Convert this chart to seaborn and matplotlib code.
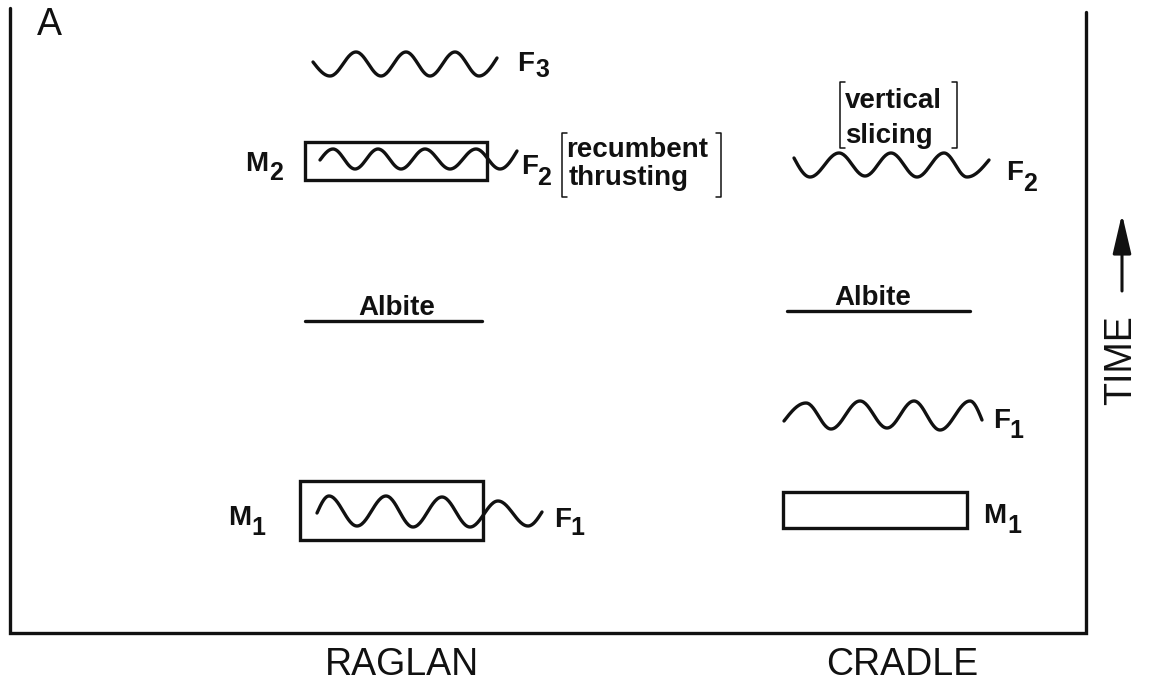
# import libraries
import numpy
import pandas
import seaborn
import matplotlib.pyplot as plt
from matplotlib.patches import Rectangle

# column names under the frame
columns = ['RAGLAN', 'CRADLE']
column_x = [402, 902]

# fold symbols: start point, crests / troughs, end point (pixels, y down)
fold_names = ['F3 raglan', 'F2 raglan', 'F1 raglan', 'F2 cradle', 'F1 cradle']
fold_x = [
    [313, 330, 356, 381, 406, 430, 455, 479, 497],
    [320, 333, 355, 378, 401, 425, 450, 476, 500, 517],
    [317, 329, 357, 386, 413, 442, 470, 498, 528, 542],
    [794, 810, 839, 865, 891, 917, 944, 967, 989],
    [784, 806, 831, 860, 887, 914, 940, 970, 982],
]
fold_y = [
    [62, 76, 52, 76, 52, 76, 52, 76, 58],
    [160, 149, 169, 149, 169, 149, 169, 149, 169, 151],
    [513, 496, 526, 496, 527, 497, 527, 501, 526, 512],
    [158, 177, 153, 176, 153, 177, 153, 177, 160],
    [421, 403, 429, 401, 428, 401, 430, 401, 420],
]

# metamorphic boxes: left, top, right, bottom
meta_names = ['M2 raglan', 'M1 raglan', 'M1 cradle']
meta_boxes = [
    [305, 142, 487, 180],
    [300, 481, 483, 540],
    [783, 492, 967, 528],
]

# labels with subscripts: letter, number, letter x, letter baseline, number x, number baseline
event_letters = ['F', 'M', 'F', 'M', 'F', 'F', 'F', 'M']
event_numbers = ['3', '2', '2', '1', '1', '2', '1', '1']
event_pos = [
    (517, 71, 535, 77),
    (245, 171, 269, 180),
    (521, 174, 537, 185),
    (228, 525, 251, 535),
    (554, 527, 570, 535),
    (1006, 180, 1023, 191),
    (993, 428, 1009, 438),
    (983, 523, 1007, 533),
]

# albite growth: text centre, text baseline, line start, line end, line y
albite = [
    (397, 315, 305, 482, 321),
    (873, 305, 787, 970, 311),
]

# bracketed notes: lines of text, text x, baselines, bracket left / right x, bracket top / bottom
notes = [
    (['recumbent', 'thrusting'], [566, 569], [157, 185], 562, 721, 133, 197),
    (['vertical', 'slicing'], [845, 845], [108, 143], 840, 957, 82, 148),
]


def wave_points(xs, ys, n=30):
    # half cosine between crest and trough, quarter cosine at the loose ends
    px, py = [], []
    last = len(xs) - 2
    for i in range(len(xs) - 1):
        t = numpy.linspace(0, 1, n)
        x = xs[i] + (xs[i + 1] - xs[i]) * t
        if i == 0:
            y = ys[1] + (ys[0] - ys[1]) * (1 - numpy.cos(numpy.pi / 2 * (1 - t)))
        elif i == last:
            y = ys[i] + (ys[i + 1] - ys[i]) * (1 - numpy.cos(numpy.pi / 2 * t))
        else:
            y = ys[i] + (ys[i + 1] - ys[i]) * (1 - numpy.cos(numpy.pi * t)) / 2
        px.extend(x)
        py.extend(y)
    return px, py


rows = []
for name, xs, ys in zip(fold_names, fold_x, fold_y):
    px, py = wave_points(xs, ys)
    for x, y in zip(px, py):
        rows.append({'fold': name, 'x': x, 'y': y})
folds = pandas.DataFrame(rows)

seaborn.set_theme(style='white')
plt.rcParams['font.family'] = ['Liberation Sans', 'DejaVu Sans']

fig = plt.figure(figsize=(11.53, 6.88), dpi=100)
ax = fig.add_axes([0, 0, 1, 1])

ink = '#111111'
lw = 2.4

# fold symbols
seaborn.lineplot(data=folds, x='x', y='y', units='fold', estimator=None, sort=False,
                 color=ink, linewidth=lw, ax=ax)

# frame: left, bottom and right sides
ax.plot([10, 10, 1086, 1086], [8, 633, 633, 12], color=ink, linewidth=2.4, solid_joinstyle='miter')

# metamorphic boxes
for left, top, right, bottom in meta_boxes:
    ax.add_patch(Rectangle((left, top), right - left, bottom - top, fill=False,
                           edgecolor=ink, linewidth=lw))

# event labels
for letter, number, (lx, ly, nx, ny) in zip(event_letters, event_numbers, event_pos):
    ax.text(lx, ly, letter, fontsize=20, fontweight='bold', color=ink, ha='left', va='baseline')
    ax.text(nx, ny, number, fontsize=18, fontweight='bold', color=ink, ha='left', va='baseline')

# albite
for tx, ty, x0, x1, ly in albite:
    ax.text(tx, ty, 'Albite', fontsize=20, fontweight='bold', color=ink, ha='center', va='baseline')
    ax.plot([x0, x1], [ly, ly], color=ink, linewidth=lw)

# bracketed notes
for lines, xs, baselines, bl, br, bt, bb in notes:
    for text, x, b in zip(lines, xs, baselines):
        ax.text(x, b, text, fontsize=20, fontweight='bold', color=ink, ha='left', va='baseline')
    ax.plot([bl + 5, bl, bl, bl + 5], [bt, bt, bb, bb], color=ink, linewidth=1.1)
    ax.plot([br - 5, br, br, br - 5], [bt, bt, bb, bb], color=ink, linewidth=1.1)

# panel letter, column names and time axis
ax.text(37, 35, 'A', fontsize=27, color=ink, ha='left', va='baseline')
for name, x in zip(columns, column_x):
    ax.text(x, 675, name, fontsize=27, color=ink, ha='center', va='baseline')
ax.text(1121, 360, 'TIME', fontsize=27, color=ink, rotation=90, ha='center', va='center')
ax.annotate('', xy=(1122, 214), xytext=(1122, 291),
            arrowprops=dict(arrowstyle='-|>,head_length=1.2,head_width=0.28', color=ink,
                            lw=2.2, mutation_scale=20, shrinkA=0, shrinkB=0))

ax.set_xlim(0, 1153)
ax.set_ylim(688, 0)
ax.axis('off')

fig.savefig('out.png', dpi=100, facecolor='white')
